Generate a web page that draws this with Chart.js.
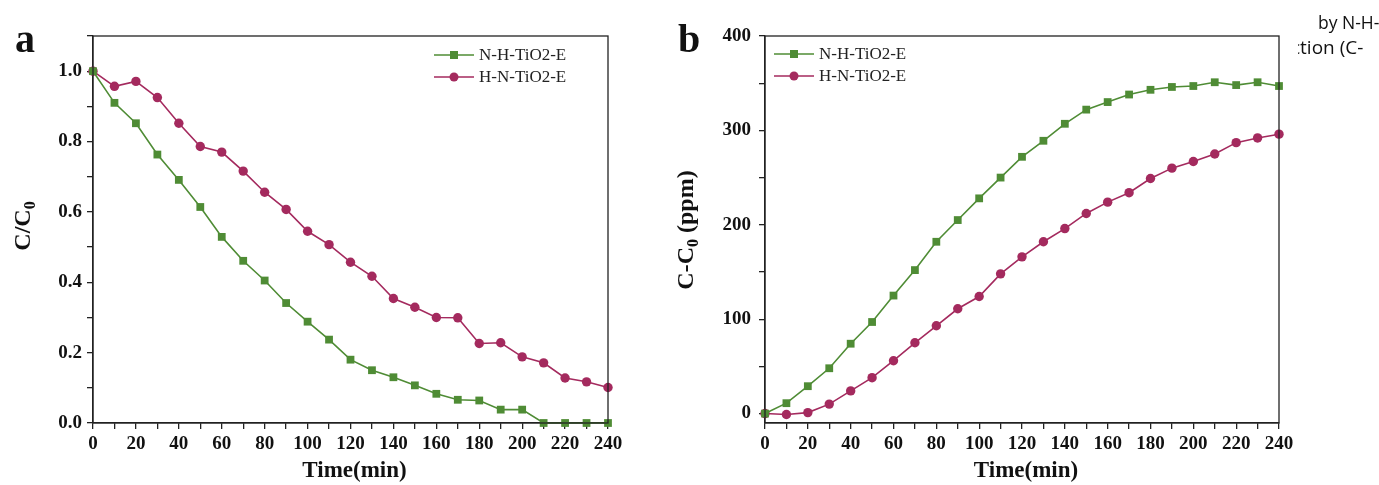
<!DOCTYPE html>
<html>
<head>
<meta charset="utf-8">
<script src="https://cdn.jsdelivr.net/npm/chart.js@4.4.1/dist/chart.umd.min.js"></script>
<style>
  body { margin: 0; background: #fff; width: 1379px; height: 485px; position: relative; overflow: hidden; }
  canvas { position: absolute; top: 0; }
  #chartA { left: 0; }
  #chartB { left: 650px; }
  .note { position: absolute; font-family: "Open Sans", sans-serif; font-size: 18px; color: #111; white-space: nowrap; }
  .clip { position: absolute; overflow: hidden; height: 28px; }
</style>
</head>
<body>
<canvas id="chartA" width="650" height="485"></canvas>
<canvas id="chartB" width="729" height="485"></canvas>
<div class="note" style="left:1318px; top:10px; font-size:17.5px;">by N-H-</div>
<div class="clip" style="left:1298px; top:34px; width:81px;">
  <div class="note" style="left:-7px; top:0; font-size:19px;">ction (C-</div>
</div>
<script>
const times = [0, 10, 20, 30, 40, 50, 60, 70, 80, 90, 100, 110, 120, 130, 140, 150, 160, 170, 180, 190, 200, 210, 220, 230, 240];
const seriesNames = ['N-H-TiO2-E', 'H-N-TiO2-E'];

// panel a: C/C0
const ratioNH = [1.0, 0.910, 0.852, 0.763, 0.691, 0.614, 0.529, 0.461, 0.405, 0.341, 0.288, 0.237, 0.180, 0.150, 0.130, 0.107, 0.083, 0.066, 0.064, 0.038, 0.038, 0.0, 0.0, 0.0, 0.0];
const ratioHN = [1.0, 0.957, 0.971, 0.925, 0.852, 0.786, 0.770, 0.716, 0.656, 0.607, 0.545, 0.507, 0.457, 0.417, 0.354, 0.329, 0.300, 0.299, 0.226, 0.228, 0.188, 0.171, 0.128, 0.117, 0.101];

// panel b: C-C0 (ppm)
const ppmNH = [0, 11, 29, 48, 74, 97, 125, 152, 182, 205, 228, 250, 272, 289, 307, 322, 330, 338, 343, 346, 347, 351, 348, 351, 347];
const ppmHN = [0, -1, 1, 10, 24, 38, 56, 75, 93, 111, 124, 148, 166, 182, 196, 212, 224, 234, 249, 260, 267, 275, 287, 292, 296];

const green = '#4f8c35';
const pink = '#a42a5e';
const serif = '"Liberation Serif", "Times New Roman", serif';

function toPoints(ys) {
  return times.map((t, i) => ({ x: t, y: ys[i] }));
}

function makeDatasets(a, b) {
  return [
    { label: seriesNames[0], data: toPoints(a), borderColor: green, backgroundColor: green,
      borderWidth: 1.6, pointStyle: 'rect', pointRadius: 5.5, pointBorderWidth: 0, clip: false },
    { label: seriesNames[1], data: toPoints(b), borderColor: pink, backgroundColor: pink,
      borderWidth: 1.6, pointStyle: 'circle', pointRadius: 4.7, pointBorderWidth: 0, clip: false }
  ];
}

// frame, legend, axis titles, panel letter
const decor = {
  id: 'decor',
  afterDraw(chart, args, o) {
    const { ctx, chartArea: a } = chart;
    ctx.save();
    ctx.strokeStyle = '#222';
    ctx.lineWidth = 1.3;
    ctx.strokeRect(a.left, a.top, a.right - a.left, a.bottom - a.top);

    // legend
    chart.data.datasets.forEach((ds, i) => {
      const y = o.legY + i * 22;
      ctx.strokeStyle = ds.borderColor;
      ctx.lineWidth = 1.6;
      ctx.beginPath();
      ctx.moveTo(o.legX, y);
      ctx.lineTo(o.legX + 40, y);
      ctx.stroke();
      ctx.fillStyle = ds.backgroundColor;
      if (ds.pointStyle === 'rect') {
        ctx.fillRect(o.legX + 20 - 4, y - 4, 8, 8);
      } else {
        ctx.beginPath();
        ctx.arc(o.legX + 20, y, 4.5, 0, Math.PI * 2);
        ctx.fill();
      }
      ctx.fillStyle = '#222';
      ctx.font = '17px ' + serif;
      ctx.textBaseline = 'middle';
      ctx.textAlign = 'left';
      ctx.fillText(ds.label, o.legX + 45, y + 1);
    });

    // x title
    ctx.fillStyle = '#111';
    ctx.font = 'bold 23px ' + serif;
    ctx.textAlign = 'center';
    ctx.textBaseline = 'middle';
    ctx.fillText('Time(min)', (a.left + a.right) / 2 + 4, 471);

    // y title with subscript
    ctx.save();
    ctx.translate(o.yTitleX, o.yTitleY);
    ctx.rotate(-Math.PI / 2);
    const big = 'bold 24px ' + serif, small = 'bold 16px ' + serif;
    ctx.font = big; const w1 = ctx.measureText(o.yTitle[0]).width;
    ctx.font = small; const w2 = ctx.measureText(o.yTitle[1]).width;
    ctx.font = big; const w3 = ctx.measureText(o.yTitle[2]).width;
    let x = -(w1 + w2 + w3) / 2;
    ctx.textAlign = 'left';
    ctx.textBaseline = 'alphabetic';
    ctx.font = big; ctx.fillText(o.yTitle[0], x, 8); x += w1;
    ctx.font = small; ctx.fillText(o.yTitle[1], x, 13); x += w2;
    ctx.font = big; ctx.fillText(o.yTitle[2], x, 8);
    ctx.restore();

    // panel letter
    ctx.font = 'bold 40px ' + serif;
    ctx.textAlign = 'left';
    ctx.textBaseline = 'alphabetic';
    ctx.fillStyle = '#111';
    ctx.fillText(o.letter, o.letterX, 52);
    ctx.restore();
  }
};

function xScale() {
  return {
    type: 'linear', min: 0, max: 240,
    grid: { drawOnChartArea: false, drawTicks: true, tickLength: 6, color: '#222', lineWidth: 1.3 },
    border: { display: true, color: '#222', width: 1.3 },
    afterFit: s => { s.height = 62; },
    ticks: {
      stepSize: 10, autoSkip: false, maxRotation: 0, padding: 4, color: '#111',
      font: { family: serif, size: 19, weight: 'bold' },
      callback: v => (v % 20 === 0 ? String(v) : '')
    }
  };
}

function baseOptions(yScale, decorOpts, padRight) {
  return {
    responsive: false,
    animation: false,
    layout: { autoPadding: false, padding: { top: 36, right: padRight, left: 0, bottom: 0 } },
    plugins: { legend: { display: false }, tooltip: { enabled: false }, decor: decorOpts },
    scales: { x: xScale(), y: yScale }
  };
}

new Chart('chartA', {
  type: 'line',
  data: { datasets: makeDatasets(ratioNH, ratioHN) },
  plugins: [decor],
  options: baseOptions({
    type: 'linear', min: 0, max: 1.1,
    grid: { drawOnChartArea: false, tickLength: 6, color: '#222', lineWidth: 1.3 },
    border: { display: true, color: '#222', width: 1.3 },
    afterFit: s => { s.width = 93; },
    ticks: {
      stepSize: 0.1, autoSkip: false, padding: 5, color: '#111',
      font: { family: serif, size: 19, weight: 'bold' },
      callback: v => { const n = Math.round(v * 10); return (n % 2 === 0 && n <= 10) ? (n / 10).toFixed(1) : ''; }
    }
  }, { legX: 434, legY: 55, yTitle: ['C/C', '0', ''], yTitleX: 22, yTitleY: 226, letter: 'a', letterX: 15 }, 42)
});

new Chart('chartB', {
  type: 'line',
  data: { datasets: makeDatasets(ppmNH, ppmHN) },
  plugins: [decor],
  options: baseOptions({
    type: 'linear', min: -10, max: 400,
    grid: { drawOnChartArea: false, tickLength: 6, color: '#222', lineWidth: 1.3 },
    border: { display: true, color: '#222', width: 1.3 },
    afterFit: s => { s.width = 115; },
    ticks: {
      stepSize: 50, autoSkip: false, includeBounds: false, padding: 8, color: '#111',
      font: { family: serif, size: 19, weight: 'bold' },
      callback: v => (v % 100 === 0 ? String(v) : '')
    }
  }, { legX: 124, legY: 54, yTitle: ['C-C', '0', ' (ppm)'], yTitleX: 35, yTitleY: 230, letter: 'b', letterX: 28 }, 100)
});
</script>
</body>
</html>
